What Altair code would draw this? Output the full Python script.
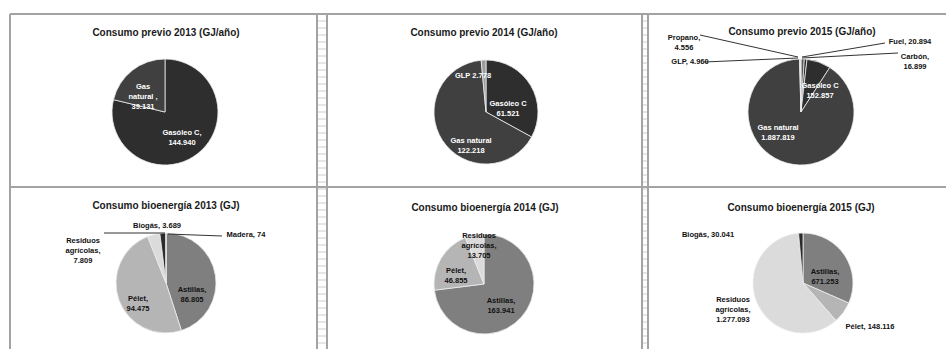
import altair as alt
import pandas as pd

# ---------------- data ----------------
prev2013_cats = ["Gasóleo C", "Gas natural"]
prev2013_vals = [144940, 39131]

prev2014_cats = ["Gasóleo C", "Gas natural", "GLP"]
prev2014_vals = [61521, 122218, 2778]

prev2015_cats = ["Fuel", "Carbón", "Gasóleo C", "Gas natural", "GLP", "Propano"]
prev2015_vals = [20894, 16899, 152857, 1887819, 4960, 4556]

bio2013_cats = ["Astillas", "Pélet", "Residuos agrícolas", "Biogás", "Madera"]
bio2013_vals = [86805, 94475, 7809, 3689, 74]

bio2014_cats = ["Astillas", "Pélet", "Residuos agrícolas"]
bio2014_vals = [163941, 46855, 13705]

bio2015_cats = ["Astillas", "Pélet", "Residuos agrícolas", "Biogás"]
bio2015_vals = [671253, 148116, 1277093, 30041]

titles = [
    "Consumo previo 2013 (GJ/año)",
    "Consumo previo 2014 (GJ/año)",
    "Consumo previo 2015 (GJ/año)",
    "Consumo bioenergía 2013 (GJ)",
    "Consumo bioenergía 2014 (GJ)",
    "Consumo bioenergía 2015 (GJ)",
]

# ---------------- styles / layout ----------------
PALETTE = {
    "Gasóleo C": "#2e2e2e",
    "Gas natural": "#404040",
    "GLP": "#9c9c9c",
    "Propano": "#c4c4c4",
    "Fuel": "#575757",
    "Carbón": "#262626",
    "Astillas": "#7f7f7f",
    "Pélet": "#b5b5b5",
    "Residuos agrícolas": "#dbdbdb",
    "Biogás": "#2b2b2b",
    "Madera": "#111111",
}
W, H = 946, 349
FONT = "Liberation Sans"

panels = [
    dict(cats=prev2013_cats, vals=prev2013_vals, cx=165, cy=112, r=53, tx=166, ty=33),
    dict(cats=prev2014_cats, vals=prev2014_vals, cx=486, cy=112, r=52, tx=484, ty=33),
    dict(cats=prev2015_cats, vals=prev2015_vals, cx=801, cy=112, r=53, tx=802, ty=32),
    dict(cats=bio2013_cats, vals=bio2013_vals, cx=166, cy=283, r=50, tx=166, ty=206),
    dict(cats=bio2014_cats, vals=bio2014_vals, cx=484, cy=284, r=50, tx=485, ty=208),
    dict(cats=bio2015_cats, vals=bio2015_vals, cx=803, cy=283, r=50, tx=801, ty=208),
]

W_ = "#ffffff"
K_ = "#111111"
# label placement: offset from pie centre, text template, colour
label_layout = [
    {"Gas natural": (-22, -25, "Gas\nnatural ,\n{v}", W_), "Gasóleo C": (17, 21, "{c},\n{v}", W_)},
    {"GLP": (-13, -36, "{c}  {v}", W_), "Gasóleo C": (22, -8, "{c}\n{v}", W_),
     "Gas natural": (-15, 29, "{c}\n{v}", W_)},
    {"Gasóleo C": (19, -26, "{c}\n{v}", W_), "Gas natural": (-23, 16, "{c}\n{v}", W_),
     "Propano": (-117, -74, "{c},\n{v}", K_), "GLP": (-111, -50, "{c}, {v}", K_),
     "Fuel": (109, -70, "{c}, {v}", K_), "Carbón": (114, -55, "{c},\n{v}", K_)},
    {"Astillas": (26, 7, "{c},\n{v}", K_), "Pélet": (-28, 16, "{c},\n{v}", K_),
     "Residuos agrícolas": (-83, -42, "Residuos\nagrícolas,\n{v}", K_),
     "Biogás": (-9, -57, "{c}, {v}", K_), "Madera": (80, -48, "{c}, {v}", K_)},
    {"Residuos agrícolas": (-5, -48, "Residuos\nagrícolas,\n{v}", K_),
     "Pélet": (-28, -13, "{c},\n{v}", K_), "Astillas": (17, 17, "{c},\n{v}", K_)},
    {"Biogás": (-95, -48, "{c}, {v}", K_), "Astillas": (22, -11, "{c},\n{v}", K_),
     "Residuos agrícolas": (-70, 17, "Residuos\nagrícolas,\n{v}", K_),
     "Pélet": (67, 44, "{c}, {v}", K_)},
]

# leader lines (annotation) : x, y, x2, y2
leaders = pd.DataFrame([
    (700, 35, 798, 57), (704, 62, 798, 58), (885, 43, 802, 57), (898, 53, 802, 58),
    (104, 233, 165, 233), (222, 236, 168, 234),
], columns=["x", "y", "x2", "y2"])

# panel frame lines
frame = pd.DataFrame([
    (10, 14, W, 14), (10, 14, 10, H), (10, 187, W, 187),
    (317, 14, 317, H), (327, 14, 327, H), (642, 14, 642, H), (648, 14, 648, H),
], columns=["x", "y", "x2", "y2"])
# spreadsheet cell lines seen in the gaps between panels
cells = pd.DataFrame(
    [(317, y, 327, y) for y in range(21, H, 7)] + [(642, y, 648, y) for y in range(21, H, 7)],
    columns=["x", "y", "x2", "y2"])


def fmt(v):
    return f"{v:,}".replace(",", ".")


color_scale = alt.Scale(domain=list(PALETTE.keys()), range=list(PALETTE.values()))

layers = []

def seg_layer(df, color, width):
    return alt.Chart(df).mark_rule(color=color, strokeWidth=width).encode(
        x=alt.X("x:Q", scale=None, axis=None), x2="x2:Q",
        y=alt.Y("y:Q", scale=None, axis=None), y2="y2:Q")

layers.append(seg_layer(cells, "#cdcdcd", 1))
layers.append(seg_layer(frame, "#a3a3a3", 2))

label_rows = []
for i, p in enumerate(panels):
    df = pd.DataFrame({"cat": p["cats"], "value": p["vals"], "idx": range(len(p["cats"]))})
    layers.append(
        alt.Chart(df).mark_arc(radius=p["r"], stroke="#ececec", strokeWidth=0.8).encode(
            theta=alt.Theta("value:Q", stack=True),
            color=alt.Color("cat:N", scale=color_scale, legend=None),
            order=alt.Order("idx:Q", sort="ascending"),
            x=alt.value(p["cx"]), y=alt.value(p["cy"]),
        )
    )
    for c, v in zip(p["cats"], p["vals"]):
        if c in label_layout[i]:
            dx, dy, tpl, col = label_layout[i][c]
            label_rows.append(dict(x=p["cx"] + dx, y=p["cy"] + dy,
                                   text=tpl.format(c=c, v=fmt(v)), col=col))

layers.append(seg_layer(leaders, "#333333", 1))

labels = pd.DataFrame(label_rows)
layers.append(
    alt.Chart(labels).mark_text(font=FONT, fontWeight="bold", fontSize=7.5, lineBreak="\n",
                                lineHeight=10, align="center", baseline="middle").encode(
        x=alt.X("x:Q", scale=None, axis=None), y=alt.Y("y:Q", scale=None, axis=None),
        text="text:N", color=alt.Color("col:N", scale=None))
)

title_df = pd.DataFrame({"t": titles, "x": [p["tx"] for p in panels], "y": [p["ty"] for p in panels]})
layers.append(
    alt.Chart(title_df).mark_text(font=FONT, fontWeight="bold", fontSize=10, color="#1a1a1a",
                                  align="center", baseline="middle").encode(
        x=alt.X("x:Q", scale=None, axis=None), y=alt.Y("y:Q", scale=None, axis=None), text="t:N")
)

chart = alt.layer(*layers).resolve_scale(theta="independent").properties(
    width=W, height=H, padding=0, autosize=alt.AutoSizeParams(type="none"), background="white"
).configure_view(strokeWidth=0)

chart.save("out.html", embed_options={"renderer": "svg", "actions": False})
